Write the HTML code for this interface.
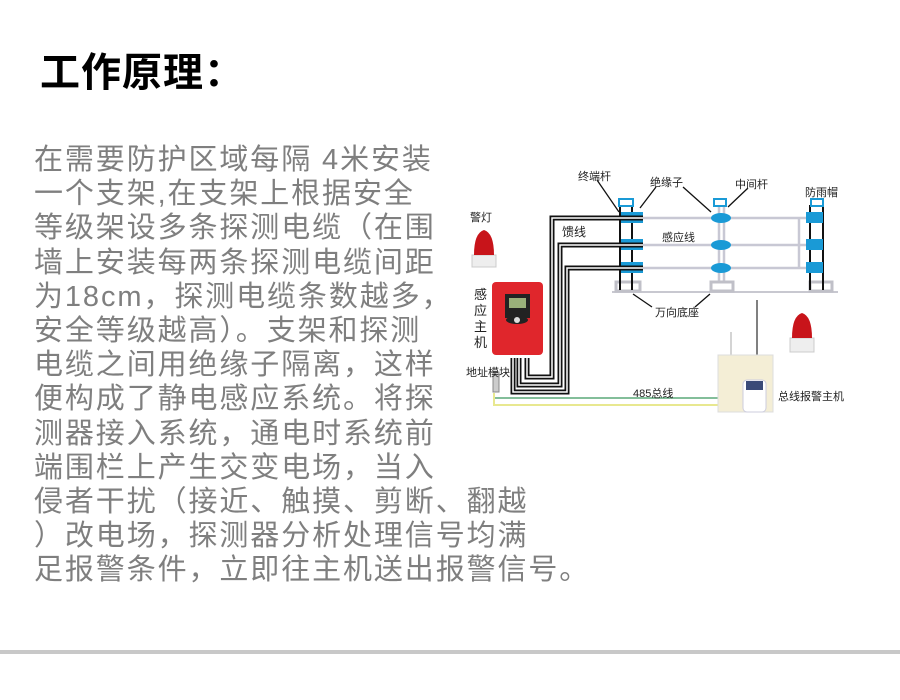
<!DOCTYPE html>
<html><head><meta charset="utf-8"><style>
html,body{margin:0;padding:0;background:#fff;width:900px;height:700px;overflow:hidden;position:relative}
.t{position:absolute;left:40px;top:40px;font:bold 40px "Liberation Sans","Noto Sans CJK SC",sans-serif;color:#000;letter-spacing:1px}
.l{position:absolute;left:34px;font:29px/30px "Liberation Sans","Noto Sans CJK SC",sans-serif;color:#7f7f7f;letter-spacing:1.9px;white-space:pre}
.bar{position:absolute;left:0;top:650px;width:900px;height:4px;background:#c8c8c8}
svg{position:absolute;left:0;top:0}
svg text{font-family:"Liberation Sans","Noto Sans CJK SC",sans-serif;fill:#222}
</style></head><body>
<div class="t">工作原理：</div>
<div class="l" style="top:145px">在需要防护区域每隔 4米安装</div>
<div class="l" style="top:179px">一个支架,在支架上根据安全</div>
<div class="l" style="top:213px">等级架设多条探测电缆（在围</div>
<div class="l" style="top:248px">墙上安装每两条探测电缆间距</div>
<div class="l" style="top:282px">为18cm，探测电缆条数越多，</div>
<div class="l" style="top:316px">安全等级越高）。支架和探测</div>
<div class="l" style="top:350px">电缆之间用绝缘子隔离，这样</div>
<div class="l" style="top:384px">便构成了静电感应系统。将探</div>
<div class="l" style="top:419px">测器接入系统，通电时系统前</div>
<div class="l" style="top:453px">端围栏上产生交变电场，当入</div>
<div class="l" style="top:487px">侵者干扰（接近、触摸、剪断、翻越</div>
<div class="l" style="top:521px">）改电场，探测器分析处理信号均满</div>
<div class="l" style="top:555px">足报警条件，立即往主机送出报警信号。</div>
<div class="bar"></div>
<svg width="900" height="700" viewBox="0 0 900 700">
<g stroke="#c8c8d4" stroke-width="2.5" fill="none">
<line x1="640" y1="218" x2="808" y2="218"/><line x1="640" y1="245" x2="808" y2="245"/><line x1="640" y1="268" x2="808" y2="268"/>
<line x1="799" y1="218" x2="799" y2="268"/>
<line x1="719" y1="205" x2="719" y2="282"/><line x1="724" y1="205" x2="724" y2="282"/>
</g>
<line x1="612" y1="292" x2="838" y2="292" stroke="#c8c8d0" stroke-width="2"/>
<g fill="#fff" stroke="#c0c0c8" stroke-width="3">
<rect x="616" y="282" width="24" height="9"/><rect x="711" y="282" width="22" height="9"/><rect x="810" y="282" width="22" height="9"/>
</g>
<g stroke="#111" stroke-width="2">
<line x1="620" y1="205" x2="620" y2="290"/><line x1="632" y1="205" x2="632" y2="290"/>
<line x1="810" y1="205" x2="810" y2="290"/><line x1="823" y1="205" x2="823" y2="290"/>
</g>
<g fill="#fff" stroke="#1a9ad6" stroke-width="2">
<rect x="619" y="199" width="14" height="7"/><rect x="714" y="199" width="12" height="7"/><rect x="811" y="199" width="12" height="7"/>
</g>
<g fill="#1a9ad6">
<rect x="621" y="212" width="22" height="11"/><rect x="621" y="239" width="22" height="11"/><rect x="621" y="262" width="22" height="11"/>
<rect x="806" y="212" width="17" height="11"/><rect x="806" y="239" width="17" height="11"/><rect x="806" y="262" width="17" height="11"/>
<ellipse cx="721" cy="218" rx="10" ry="5"/><ellipse cx="721" cy="245" rx="10" ry="5"/><ellipse cx="721" cy="268" rx="10" ry="5"/>
</g>
<g fill="none" stroke="#111" stroke-width="5">
<path d="M643 218 H552 V377 H527 V358"/><path d="M643 245 H560 V385 H519 V358"/><path d="M643 268 H567 V392 H513 V358"/>
</g>
<g fill="none" stroke="#fff" stroke-width="1.5">
<path d="M643 218 H552 V377 H527 V358"/><path d="M643 245 H560 V385 H519 V358"/><path d="M643 268 H567 V392 H513 V358"/>
</g>
<g stroke="#111" stroke-width="1.3">
<line x1="597" y1="180" x2="619" y2="212"/><line x1="656" y1="187" x2="640" y2="208"/><line x1="683" y1="187" x2="711" y2="212"/>
<line x1="748" y1="188" x2="728" y2="207"/><line x1="633" y1="294" x2="652" y2="307"/><line x1="710" y1="294" x2="695" y2="307"/>
</g>
<line x1="494" y1="398" x2="718" y2="398" stroke="#5aa878" stroke-width="1.5"/>
<line x1="494" y1="405" x2="718" y2="405" stroke="#e8e890" stroke-width="2"/>
<line x1="494" y1="393" x2="494" y2="406" stroke="#e8e890" stroke-width="2"/>
<rect x="493" y="372" width="6" height="20" fill="#ccc" stroke="#888"/>
<rect x="492" y="282" width="51" height="73" rx="4" fill="#e0262c"/>
<rect x="505" y="294" width="25" height="24" fill="#222"/>
<rect x="509" y="298" width="17" height="10" fill="#9ab07a"/>
<ellipse cx="517" cy="320" rx="11" ry="4" fill="#222"/><circle cx="517" cy="320" r="3" fill="#ddd"/>
<g>
<rect x="472" y="255" width="24" height="12" fill="#eee" stroke="#ccc"/>
<path d="M474 255 Q474 233 484 230 Q494 233 494 255Z" fill="#c8141a"/>
<rect x="790" y="338" width="24" height="14" fill="#eee" stroke="#ccc"/>
<path d="M792 338 Q792 316 802 313 Q812 316 812 338Z" fill="#c8141a"/>
</g>
<line x1="757" y1="300" x2="757" y2="355" stroke="#555" stroke-width="1.5"/>
<line x1="731" y1="332" x2="731" y2="355" stroke="#aaa" stroke-width="1"/>
<rect x="718" y="355" width="55" height="57" fill="#f4eed6" stroke="#ddd"/>
<rect x="743" y="380" width="23" height="32" rx="4" fill="#fff" stroke="#ccd"/>
<rect x="746" y="381" width="17" height="9" fill="#3a4a78"/>
<g font-size="11">
<text x="578" y="180">终端杆</text><text x="650" y="186">绝缘子</text><text x="735" y="188">中间杆</text><text x="805" y="196">防雨帽</text>
<text x="470" y="221">警灯</text><text x="562" y="236" font-size="12">馈线</text><text x="662" y="241">感应线</text>
<text x="655" y="316">万向底座</text><text x="466" y="376">地址模块</text><text x="633" y="397">485总线</text>
<text x="778" y="400">总线报警主机</text>
</g>
<g font-size="13"><text x="474" y="299">感</text><text x="474" y="315">应</text><text x="474" y="331">主</text><text x="474" y="347">机</text></g>
</svg>
</body></html>
